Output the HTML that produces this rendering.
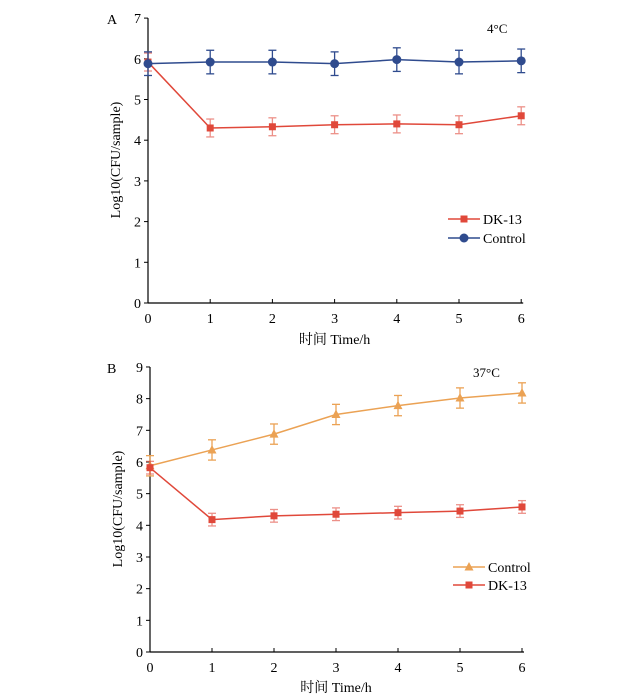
<!DOCTYPE html>
<html><head><meta charset="utf-8"><style>
body{margin:0;background:#fff;}
svg{display:block;font-family:"Liberation Serif","Noto Serif CJK SC",serif;}
</style></head><body>
<svg id="s" width="625" height="699" xmlns="http://www.w3.org/2000/svg"></svg>
<script>
const s=document.getElementById('s');let h='';
function panel(o){
 const {x0,dx,y0,dy,ymax,label,lx,ly,temp,tx,ty,series,leg,xlY,yl}=o;
 const X=v=>x0+dx*v, Y=v=>y0-dy*v;
 h+=`<line x1="${x0}" y1="${Y(ymax)}" x2="${x0}" y2="${y0}" stroke="#000" stroke-width="1.2"/>`;
 h+=`<line x1="${x0}" y1="${y0}" x2="${X(6)+2}" y2="${y0}" stroke="#000" stroke-width="1.2"/>`;
 for(let i=0;i<=ymax;i++){h+=`<line x1="${x0-4}" y1="${Y(i)}" x2="${x0}" y2="${Y(i)}" stroke="#000"/><text x="${x0-7}" y="${Y(i)+5}" font-size="14" text-anchor="end">${i}</text>`;}
 for(let i=0;i<=6;i++){h+=`<line x1="${X(i)}" y1="${y0}" x2="${X(i)}" y2="${y0-4}" stroke="#000"/><text x="${X(i)}" y="${y0+20}" font-size="14" text-anchor="middle">${i}</text>`;}
 h+=`<text x="${lx}" y="${ly}" font-size="14">${label}</text><text x="${tx}" y="${ty}" font-size="13">${temp}</text>`;
 h+=`<text x="${X(3)}" y="${xlY}" font-size="14" text-anchor="middle">时间 Time/h</text>`;
 h+=`<text transform="translate(${x0-28},${yl}) rotate(-90)" font-size="14" text-anchor="middle">Log10(CFU/sample)</text>`;
 series.forEach(se=>{
  let pts=se.v.map((v,i)=>`${X(i)},${Y(v)}`).join(' ');
  h+=`<polyline points="${pts}" fill="none" stroke="${se.c}" stroke-width="1.5"/>`;
  se.v.forEach((v,i)=>{const x=X(i),a=Y(v+se.e),b=Y(v-se.e);
   h+=`<g stroke="${se.c}" stroke-width="1.3" opacity="${se.eo||1}"><line x1="${x}" y1="${a}" x2="${x}" y2="${b}"/><line x1="${x-4}" y1="${a}" x2="${x+4}" y2="${a}"/><line x1="${x-4}" y1="${b}" x2="${x+4}" y2="${b}"/></g>`;
   h+=mk(se.m,x,Y(v),se.c);});
 });
 leg.forEach(l=>{h+=`<line x1="${l.x}" y1="${l.y}" x2="${l.x+32}" y2="${l.y}" stroke="${l.c}" stroke-width="1.5"/>`+mk(l.m,l.x+16,l.y,l.c)+`<text x="${l.x+35}" y="${l.y+5}" font-size="14">${l.t}</text>`;});
}
function mk(m,x,y,c){
 if(m=='c')return `<circle cx="${x}" cy="${y}" r="4.5" fill="${c}"/>`;
 if(m=='s')return `<rect x="${x-3.5}" y="${y-3.5}" width="7" height="7" fill="${c}"/>`;
 return `<polygon points="${x},${y-5} ${x-4.5},${y+3.5} ${x+4.5},${y+3.5}" fill="${c}"/>`;
}
const B='#2f4b8e',R='#e0483a',O='#eba254';
panel({x0:148,dx:62.2,y0:303,dy:40.7,ymax:7,label:'A',lx:107,ly:24,temp:'4°C',tx:487,ty:33,xlY:344,yl:160,
 series:[{v:[5.92,4.3,4.33,4.38,4.4,4.38,4.6],e:0.22,c:R,m:'s',eo:0.6},{v:[5.88,5.92,5.92,5.88,5.98,5.92,5.95],e:0.29,c:B,m:'c'}],
 leg:[{x:448,y:219,c:R,m:'s',t:'DK-13'},{x:448,y:238,c:B,m:'c',t:'Control'}]});
panel({x0:150,dx:62,y0:652,dy:31.67,ymax:9,label:'B',lx:107,ly:373,temp:'37°C',tx:473,ty:377,xlY:692,yl:509,
 series:[{v:[5.88,6.38,6.88,7.5,7.78,8.02,8.18],e:0.32,c:O,m:'t'},{v:[5.82,4.18,4.3,4.35,4.4,4.45,4.58],e:0.2,c:R,m:'s',eo:0.6}],
 leg:[{x:453,y:567,c:O,m:'t',t:'Control'},{x:453,y:585,c:R,m:'s',t:'DK-13'}]});
s.innerHTML=h;
</script>
</body></html>
